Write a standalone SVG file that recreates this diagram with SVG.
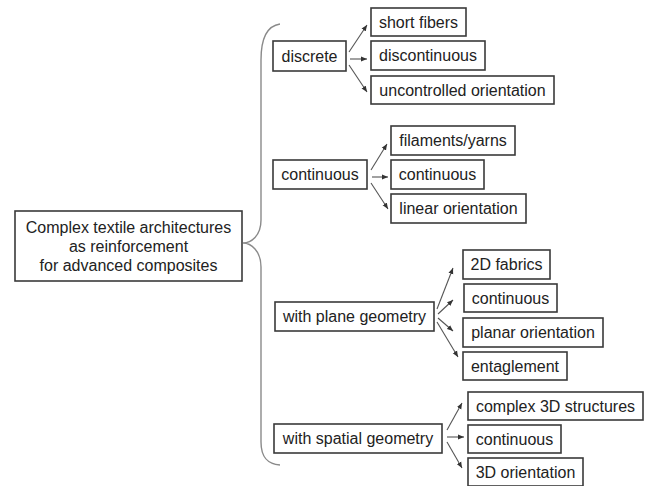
<svg xmlns="http://www.w3.org/2000/svg" width="646" height="486" viewBox="0 0 646 486">
<style>
  .box { fill: #ffffff; stroke: #3a3a3a; stroke-width: 1.6; }
  .t { font-family: "Liberation Sans", Arial, sans-serif; font-size: 16px; fill: #222222; text-anchor: middle; }
  .arr { stroke: #555555; stroke-width: 1.1; fill: none; marker-end: url(#ah); }
  .brace { stroke: #8a8a8a; stroke-width: 1.4; fill: none; }
</style>
<defs>
  <marker id="ah" markerUnits="userSpaceOnUse" markerWidth="7" markerHeight="6" refX="6" refY="3" orient="auto">
    <path d="M0,0.5 L6,3 L0,5.5 Z" fill="#333333"/>
  </marker>
</defs>
<rect width="646" height="486" fill="#ffffff"/>

<g id="connectors">
  <path class="brace" d="M 280 24 C 266 26, 261 40, 261 60 L 261 220 C 261 236, 251 243, 243 243 C 251 243, 261 251, 261 267 L 261 442 C 261 458, 268 464, 280 465"/>
  <line class="arr" x1="349" y1="52" x2="367" y2="25"/>
  <line class="arr" x1="350" y1="59" x2="367" y2="59"/>
  <line class="arr" x1="349" y1="65" x2="367" y2="92"/>
  <line class="arr" x1="371" y1="170" x2="387" y2="144"/>
  <line class="arr" x1="372" y1="177" x2="388" y2="177"/>
  <line class="arr" x1="371" y1="183" x2="388" y2="209"/>
  <line class="arr" x1="437" y1="309" x2="453" y2="268"/>
  <line class="arr" x1="438" y1="314" x2="453" y2="300"/>
  <line class="arr" x1="438" y1="318" x2="453" y2="331"/>
  <line class="arr" x1="437" y1="322" x2="458" y2="357"/>
  <line class="arr" x1="447" y1="430" x2="462" y2="403"/>
  <line class="arr" x1="447" y1="437" x2="464" y2="437"/>
  <line class="arr" x1="447" y1="442" x2="462" y2="468"/>
</g>

<g id="main">
  <rect class="box" x="15" y="211" width="227" height="70"/>
  <text class="t" x="128.5" y="233">Complex textile architectures</text>
  <text class="t" x="128.5" y="252">as reinforcement</text>
  <text class="t" x="128.5" y="271">for advanced composites</text>
</g>

<g id="discrete">
  <rect class="box" x="273" y="41" width="73" height="30"/>
  <text class="t" x="309.5" y="62">discrete</text>
</g>
<g id="short-fibers">
  <rect class="box" x="371" y="8" width="95" height="28"/>
  <text class="t" x="418.5" y="28">short fibers</text>
</g>
<g id="discontinuous">
  <rect class="box" x="371" y="41" width="114" height="29"/>
  <text class="t" x="428" y="61">discontinuous</text>
</g>
<g id="uncontrolled-orientation">
  <rect class="box" x="371" y="76" width="183" height="28"/>
  <text class="t" x="462.5" y="96">uncontrolled orientation</text>
</g>

<g id="continuous-main">
  <rect class="box" x="273" y="160" width="94" height="29"/>
  <text class="t" x="320" y="180">continuous</text>
</g>
<g id="filaments-yarns">
  <rect class="box" x="391" y="126" width="124" height="29"/>
  <text class="t" x="453" y="146">filaments/yarns</text>
</g>
<g id="continuous-2">
  <rect class="box" x="391" y="160" width="93" height="29"/>
  <text class="t" x="437.5" y="180">continuous</text>
</g>
<g id="linear-orientation">
  <rect class="box" x="391" y="194" width="135" height="29"/>
  <text class="t" x="458.5" y="214">linear orientation</text>
</g>

<g id="plane-geometry">
  <rect class="box" x="275" y="302" width="159" height="29"/>
  <text class="t" x="354.5" y="322">with plane geometry</text>
</g>
<g id="fabrics-2d">
  <rect class="box" x="463" y="250" width="87" height="29"/>
  <text class="t" x="506.5" y="270">2D fabrics</text>
</g>
<g id="continuous-3">
  <rect class="box" x="464" y="284" width="93" height="28"/>
  <text class="t" x="510.5" y="304">continuous</text>
</g>
<g id="planar-orientation">
  <rect class="box" x="463" y="318" width="140" height="29"/>
  <text class="t" x="533" y="338">planar orientation</text>
</g>
<g id="entaglement">
  <rect class="box" x="463" y="352" width="104" height="28"/>
  <text class="t" x="515" y="372">entaglement</text>
</g>

<g id="spatial-geometry">
  <rect class="box" x="274" y="424" width="168" height="29"/>
  <text class="t" x="358" y="444">with spatial geometry</text>
</g>
<g id="complex-3d">
  <rect class="box" x="468" y="392" width="175" height="28"/>
  <text class="t" x="555.5" y="412">complex 3D structures</text>
</g>
<g id="continuous-4">
  <rect class="box" x="468" y="425" width="93" height="28"/>
  <text class="t" x="514.5" y="445">continuous</text>
</g>
<g id="orientation-3d">
  <rect class="box" x="468" y="458" width="115" height="28"/>
  <text class="t" x="525.5" y="478">3D orientation</text>
</g>
</svg>
